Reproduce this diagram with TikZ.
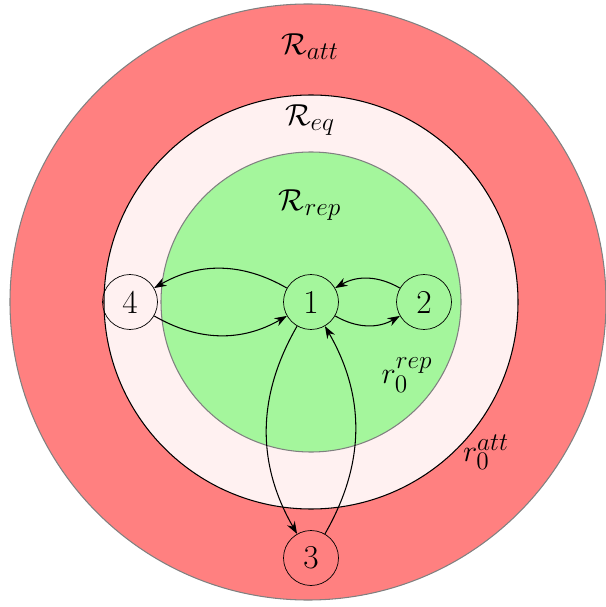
\documentclass[tikz,border=0pt]{standalone}
\usetikzlibrary{arrows.meta}
\definecolor{attred}{RGB}{255,128,128}
\definecolor{eqpink}{RGB}{255,241,241}
\definecolor{repgreen}{RGB}{164,246,156}
\begin{document}
\begin{tikzpicture}[x=0.02cm,y=-0.02cm,
  every node/.style={font=\fontsize{19}{23}\selectfont},
  agent/.style={draw,circle,minimum size=1.1cm,inner sep=0pt},
  link/.style={-{Stealth[length=7pt,width=5pt]},line width=0.6pt},
  region/.style={line width=0.6pt}]
\useasboundingbox (0,0) rectangle (605,607);
\fill[attred,draw=gray,region] (308,302) circle (298*0.02cm);
\fill[eqpink,draw=black,region] (311,302) circle (207*0.02cm);
\fill[repgreen,draw=gray,region] (311,302) circle (150*0.02cm);
\node (ratt) at (310,47) {$\mathcal{R}_{att}$};
\node (req) at (310,120) {$\mathcal{R}_{eq}$};
\node (rrep) at (310,205) {$\mathcal{R}_{rep}$};
\node (r0rep) at (407,375) {$r_0^{rep}$};
\node (r0att) at (486,452) {$r_0^{att}$};
\node[agent] (n1) at (311,302) {1};
\node[agent] (n2) at (424,302) {2};
\node[agent] (n4) at (130,302) {4};
\node[agent] (n3) at (311,558) {3};
\draw[link] (n1) to[bend right=30] (n4);
\draw[link] (n4) to[bend right=30] (n1);
\draw[link] (n1) to[bend right=30] (n2);
\draw[link] (n2) to[bend right=30] (n1);
\draw[link] (n1) to[bend right=30] (n3);
\draw[link] (n3) to[bend right=30] (n1);
\end{tikzpicture}
\end{document}
